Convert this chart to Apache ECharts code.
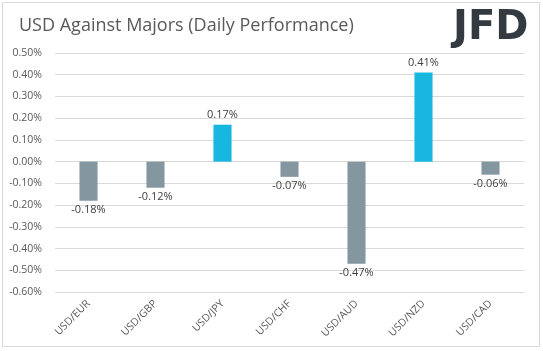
<!DOCTYPE html>
<html>
<head>
<meta charset="utf-8">
<script src="https://cdn.jsdelivr.net/npm/echarts@6/dist/echarts.min.js"></script>
<style>
html, body { margin: 0; padding: 0; background: #fff; }
#main { width: 543px; height: 351px; }
</style>
</head>
<body>
<div id="main"></div>
<script>
// pairs and daily moves (percent)
var pairs = ['USD/EUR', 'USD/GBP', 'USD/JPY', 'USD/CHF', 'USD/AUD', 'USD/NZD', 'USD/CAD'];
var changes = [-0.18, -0.12, 0.17, -0.07, -0.47, 0.41, -0.06];

var upColor = '#17b7e0';
var downColor = '#8496a0';
var fontName = '"Open Sans", "Noto Sans", sans-serif';

var myChart = echarts.init(document.getElementById('main'));

var barData = changes.map(function (v) {
    return {
        value: v,
        itemStyle: { color: v >= 0 ? upColor : downColor },
        label: { position: v >= 0 ? 'top' : 'bottom' }
    };
});

var option = {
    animation: false,
    title: {
        text: 'USD Against Majors (Daily Performance)',
        left: 14,
        top: 12,
        textStyle: { fontFamily: fontName, fontSize: 18, fontWeight: 'normal', color: '#595959' }
    },
    graphic: [
        {
            type: 'rect',
            shape: { x: 2.5, y: 2.5, width: 537, height: 344 },
            style: { fill: 'none', stroke: '#d9d9d9', lineWidth: 1 },
            silent: true
        },
        {
            type: 'text',
            left: 453,
            top: 9,
            style: {
                text: 'JFD',
                fontFamily: '"DejaVu Sans", sans-serif',
                fontWeight: 'bold',
                fontSize: 40,
                fill: '#343a42'
            }
        }
    ],
    grid: { left: 55, right: 19, top: 53, bottom: 59 },
    xAxis: {
        type: 'category',
        data: pairs,
        axisLine: { show: false, onZero: false },
        axisTick: { show: false },
        axisLabel: { rotate: 45, margin: 10, fontFamily: fontName, fontSize: 10.5, color: '#595959' }
    },
    yAxis: {
        type: 'value',
        min: -0.6,
        max: 0.5,
        interval: 0.1,
        axisLine: { show: false },
        axisTick: { show: false },
        splitLine: { lineStyle: { color: '#d9d9d9' } },
        axisLabel: {
            margin: 13,
            fontFamily: fontName,
            fontSize: 10.5,
            color: '#595959',
            formatter: function (v) { return v.toFixed(2) + '%'; }
        }
    },
    series: [{
        type: 'bar',
        data: barData,
        barWidth: '27%',
        label: {
            show: true,
            fontFamily: fontName,
            fontSize: 11,
            color: '#404040',
            distance: 4,
            formatter: function (p) { return p.value.toFixed(2) + '%'; }
        }
    }]
};

myChart.setOption(option);
</script>
</body>
</html>
